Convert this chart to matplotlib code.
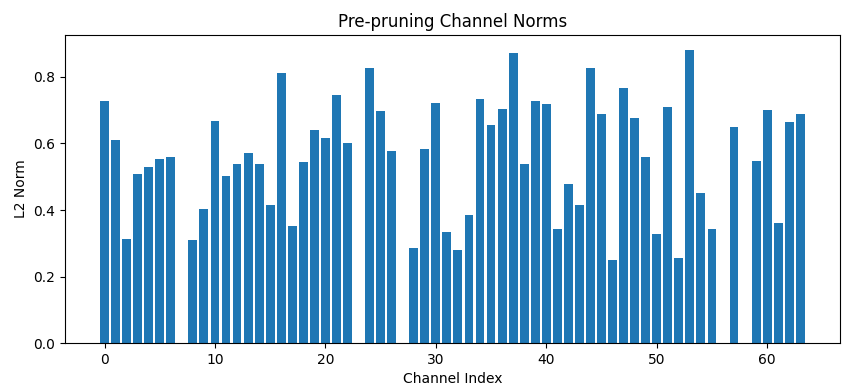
import numpy as np
import matplotlib
matplotlib.use("Agg")
import matplotlib.pyplot as plt

# L2 norms per channel
channel_idx = np.arange(64)
norms = [0.729, 0.609, 0.314, 0.509, 0.530, 0.554, 0.560, 0.0,
         0.311, 0.404, 0.669, 0.503, 0.539, 0.572, 0.539, 0.416,
         0.813, 0.353, 0.545, 0.642, 0.615, 0.747, 0.600, 0.0,
         0.828, 0.699, 0.578, 0.0, 0.287, 0.584, 0.723, 0.335,
         0.281, 0.386, 0.735, 0.657, 0.705, 0.873, 0.539, 0.729,
         0.720, 0.344, 0.479, 0.416, 0.828, 0.690, 0.251, 0.768,
         0.678, 0.560, 0.329, 0.711, 0.257, 0.882, 0.452, 0.344,
         0.0, 0.651, 0.0, 0.548, 0.702, 0.362, 0.666, 0.690]

fig = plt.figure(figsize=(8.65, 3.85), dpi=100)
ax = fig.add_subplot(111)
ax.bar(channel_idx, norms, color='#1f77b4')
ax.set_title("Pre-pruning Channel Norms")
ax.set_xlabel("Channel Index")
ax.set_ylabel("L2 Norm")
plt.subplots_adjust(left=0.075, right=0.971, top=0.909, bottom=0.109)
fig.savefig("out.png", dpi=100)
